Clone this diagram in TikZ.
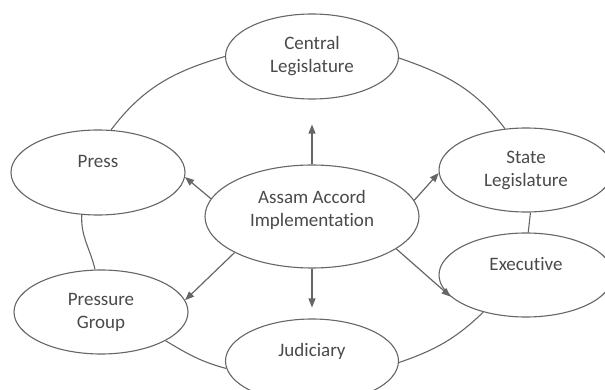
\documentclass[tikz,border=0pt]{standalone}
\usepackage{fontspec}
\setmainfont{Carlito}[Ligatures=NoCommon]
\usetikzlibrary{arrows.meta,shapes.geometric}
\definecolor{linegray}{HTML}{666666}
\definecolor{textgray}{HTML}{4A4A4A}
\tikzset{
  oval/.style={ellipse, draw=linegray, line width=1.1pt, fill=white, inner sep=0pt,
    align=center, text=textgray, font=\fontsize{19}{23}\selectfont},
  ring/.style={draw=linegray, line width=1.1pt},
  arr/.style={draw=linegray, line width=1.2pt, -{Triangle[length=9pt,width=7pt]}}
}
\begin{document}
\begin{tikzpicture}[x=1pt,y=1pt]
\useasboundingbox (0,0) rectangle (605,-390);
\node[oval, minimum width=173pt, minimum height=85pt] (central) at (312,-56.5) {Central\\Legislature};
\node[oval, minimum width=174pt, minimum height=85pt] (press) at (98,-172.5) {Press\\\mbox{}};
\node[oval, minimum width=214pt, minimum height=103pt] (assam) at (312,-216.5) {Assam Accord\\Implementation\\[-7pt]\mbox{}};
\node[oval, minimum width=174pt, minimum height=84pt] (state) at (526,-170) {State\\Legislature};
\node[oval, minimum width=174pt, minimum height=84pt] (executive) at (526,-275) {Executive\\\mbox{}};
\node[oval, minimum width=174pt, minimum height=84pt] (pressure) at (101,-312) {Pressure\\Group};
\node[oval, minimum width=173pt, minimum height=84pt] (judiciary) at (312,-361) {Judiciary\\\mbox{}};

\draw[ring] (central.180) to[out=196,in=53] (press.73);
\draw[ring] (central.-1) to[out=-19,in=127] (state.117);
\draw[ring] (state.-84) -- (executive.87);
\draw[ring] (executive.221) to[out=224,in=19] (judiciary.-1);
\draw[ring] (judiciary.185) to[out=165,in=-31] (pressure.-24);
\draw[ring] (pressure.98) to[out=103,in=-93] (press.249);

\draw[arr, shorten >=25pt] (assam.90) -- (central.-90);
\draw[arr] (assam.170) -- (press.-3);
\draw[arr] (assam.9) -- (state.182);
\draw[arr] (assam.205) -- (pressure.8);
\draw[arr] (assam.-21) -- (executive.196);
\draw[arr, shorten >=11pt] (assam.-90) -- (judiciary.90);
\end{tikzpicture}
\end{document}
